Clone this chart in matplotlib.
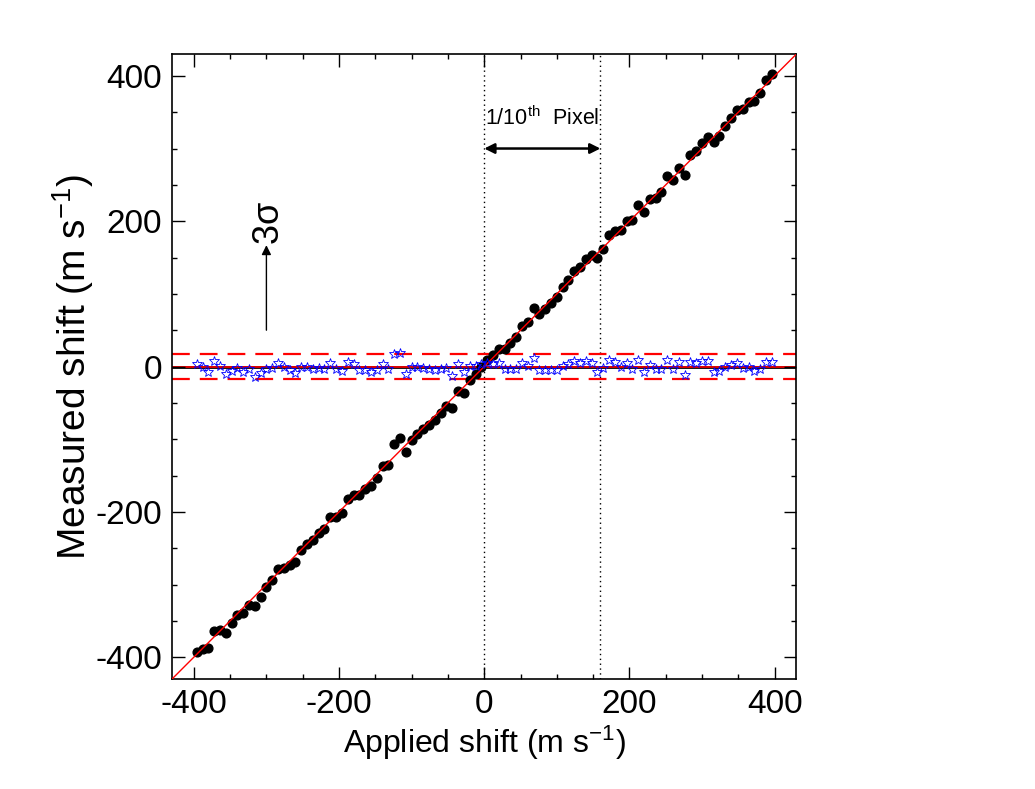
#!/usr/bin/env python3
# Measured vs applied shift, with residuals and 3 sigma band.

import numpy as np
import matplotlib
matplotlib.use("Agg")
import matplotlib.pyplot as plt

plt.rcParams['font.family'] = ['Liberation Sans', 'DejaVu Sans']
plt.rcParams['mathtext.default'] = 'regular'
plt.rcParams['axes.unicode_minus'] = False

# Applied shift (m/s) and residual = measured - applied (m/s).
applied = np.arange(-396, 397, 8)
residual = np.array([
    3.0, -1.0, -7.5, 8.0, 1.0, -10.0, -5.5, -2.5, -7.5, -4.0,
    -14.0, -9.5, -3.5, -2.0, 5.0, -1.0, -4.5, -9.5, -0.5, 0.0,
    -3.0, -1.5, -3.0, 4.5, -3.5, -6.0, 6.0, 3.0, -4.5, -4.5,
    -8.0, -5.0, 3.2, -4.0, 17.0, 18.3, -9.8, -0.7, -0.7, -1.4,
    -4.0, -5.0, -3.7, -2.3, -13.0, 2.8, -7.8, 0.9, 1.2, 4.0,
    4.5, 3.7, 4.2, -3.4, -3.2, -3.2, 4.2, 1.2, 12.0, -4.2,
    -4.2, -4.2, -4.2, 1.4, 2.8, 8.0, 5.3, 8.0, 5.3, -7.0,
    -2.3, 8.8, 6.2, -0.5, 4.6, -3.0, 9.6, -7.6, 2.6, -3.5,
    -3.5, 9.6, -3.5, 5.8, -12.2, 6.6, 4.2, 7.4, 8.0, -7.0,
    -6.5, -1.2, 2.0, 4.6, -2.3, 0.0, -6.5, -3.5, 5.8, 6.6,
])
measured = applied + residual

sigma3 = 17.5        # 3 sigma level (m/s)
tenth_pixel = 160.0  # shift corresponding to 1/10th of a pixel (m/s)
lim = 430

fig = plt.figure(figsize=(10.35, 7.89), dpi=100)
ax = fig.add_axes([0.1662, 0.1394, 0.6033, 0.7921])

# One to one line and zero line.
ax.plot([-lim, lim], [-lim, lim], color='red', lw=1.0, zorder=4)
ax.axhline(0, color='black', lw=2.0, zorder=1)
ax.axhline(0, color='red', lw=1.2, zorder=1.5)

# 3 sigma band.
for level in (sigma3, -sigma3):
    ax.axhline(level, color='red', lw=1.6, linestyle=(0, (8, 4.5)), zorder=1.5)

# Vertical markers for 0 and 1/10th pixel.
ax.axvline(0, color='black', lw=1.0, linestyle=(0, (1, 2.5)), zorder=1)
ax.axvline(tenth_pixel, color='black', lw=1.0, linestyle=(0, (1, 2.5)), zorder=1)

# Data.
ax.plot(applied, measured, 'o', color='black', ms=6.3, zorder=3)
ax.plot(applied, residual, '*', mfc='none', mec='blue', mew=0.6, ms=7.5, zorder=5)

# Annotations.
ax.annotate('', xy=(tenth_pixel, 300), xytext=(0, 300),
            arrowprops=dict(arrowstyle='<|-|>', color='black', lw=1.8,
                            mutation_scale=15, shrinkA=0, shrinkB=0))
ax.text(tenth_pixel / 2, 342, r'1/10$^{th}$  Pixel', ha='center', va='center',
        fontsize=15.5)
ax.annotate('', xy=(-300, 167), xytext=(-300, 50),
            arrowprops=dict(arrowstyle='-|>', color='black', lw=1.0,
                            mutation_scale=14, shrinkA=0, shrinkB=0))
ax.text(-296, 197, r'$3\sigma$', rotation=90, ha='center', va='center',
        fontsize=26)

ax.set_xlim(-lim, lim)
ax.set_ylim(-lim, lim)
ax.set_xticks([-400, -200, 0, 200, 400])
ax.set_yticks([-400, -200, 0, 200, 400])
ax.set_xticks(np.arange(-400, 401, 50), minor=True)
ax.set_yticks(np.arange(-400, 401, 50), minor=True)
ax.tick_params(which='both', direction='in', top=True, right=True,
               width=1.0, labelsize=24)
ax.tick_params(which='major', length=9, pad=7)
ax.tick_params(which='minor', length=3.7)
for sp in ax.spines.values():
    sp.set_linewidth(1.2)

ax.set_xlabel(r'Applied shift (m s$^{-1}$)', fontsize=23, labelpad=3)
ax.set_ylabel(r'Measured shift (m s$^{-1}$)', fontsize=28, labelpad=0)

plt.savefig('out.png', dpi=100)
